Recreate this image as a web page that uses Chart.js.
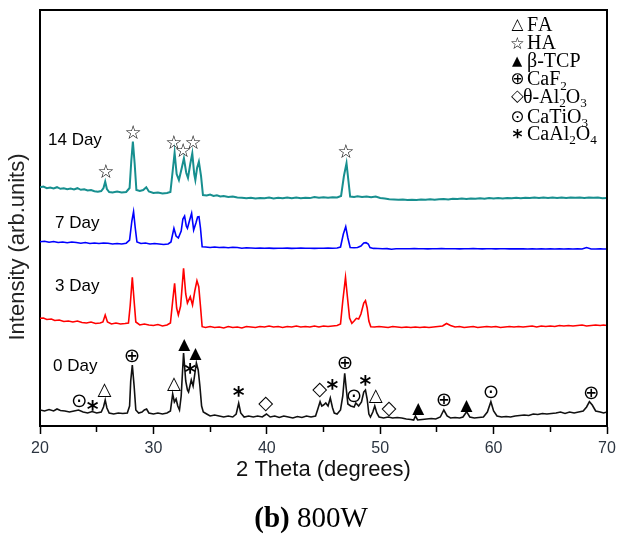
<!DOCTYPE html>
<html>
<head>
<meta charset="utf-8">
<style>html,body{margin:0;padding:0;background:#fff}</style>
<script src="https://cdn.jsdelivr.net/npm/chart.js@4/dist/chart.umd.min.js"></script>
</head>
<body>
<canvas id="c" width="618" height="539"></canvas>
<script>
// 2 theta (deg), stacked intensity (arb.units)
const day0=[[20.0,16],[20.4,15],[20.8,16.5],[21.2,15],[21.5,17],[21.8,15.5],[22.2,15],[22.6,14],[23.0,15],[23.4,16],[23.8,14],[24.2,13],[24.6,14.5],[25.0,13],[25.4,14],[25.6,19],[25.75,26],[25.9,18],[26.1,13],[26.5,12],[26.9,13],[27.3,12.5],[27.7,13],[27.9,20],[28.0,45],[28.14,61],[28.3,40],[28.45,16],[28.7,13],[29.0,14],[29.2,16],[29.4,17],[29.6,13],[30.0,12],[30.4,13],[30.8,12],[31.2,13],[31.5,15],[31.7,32],[31.85,24],[32.0,27],[32.15,20],[32.3,16],[32.45,30],[32.66,73],[32.85,45],[33.0,36],[33.1,34],[33.34,46],[33.5,40],[33.65,52],[33.79,63],[33.95,56],[34.1,40],[34.25,20],[34.4,14],[34.7,12],[35.0,10],[35.4,11],[35.8,10],[36.2,9],[36.6,10],[37.0,9],[37.3,12],[37.52,22.7],[37.7,13],[38.0,9],[38.4,10],[38.8,9],[39.2,10],[39.6,9],[39.97,12],[40.3,9],[40.7,10],[41.1,8.5],[41.5,10],[41.9,9],[42.3,8],[42.7,9.5],[43.1,8.5],[43.5,10],[43.9,9],[44.3,10],[44.5,17],[44.7,24.3],[44.85,20],[45.0,21],[45.2,23],[45.4,20],[45.6,28],[45.8,18],[45.95,13],[46.2,12],[46.5,16],[46.7,30],[46.87,52.7],[47.0,38],[47.15,22],[47.4,20],[47.7,19],[47.85,23],[48.1,20],[48.35,24],[48.55,34],[48.7,36],[48.85,27],[49.0,12],[49.14,9],[49.35,14],[49.52,20],[49.7,13],[49.9,9],[50.3,8],[50.7,9],[51.1,8],[51.5,8.5],[51.9,8],[52.3,7],[52.7,6.5],[52.95,6],[53.11,10],[53.3,6],[53.7,6.5],[54.1,7],[54.5,7.5],[54.9,7],[55.3,9],[55.61,16],[55.9,10],[56.2,8],[56.6,8.5],[57.0,8],[57.3,9],[57.62,14.3],[57.9,9],[58.3,8],[58.7,8.5],[59.1,9],[59.45,14],[59.76,24.3],[60.0,15],[60.3,10],[60.7,9],[61.1,9.5],[61.5,9],[61.9,10],[62.3,10.5],[62.7,11],[63.1,10.5],[63.5,12],[63.9,11.5],[64.3,12.5],[64.7,12],[65.1,12.5],[65.5,13],[65.9,14],[66.3,12.5],[66.7,14],[67.1,13],[67.5,14],[67.9,15],[68.2,19],[68.45,24.3],[68.7,21],[69.0,15],[69.4,14],[69.7,13],[70.0,14]];

const day3=[[20.0,107.7],[20.3,108],[20.6,106.5],[21.0,107],[21.3,105.5],[21.7,106],[22.1,104.5],[22.5,105],[22.9,104],[23.3,105],[23.7,103.5],[24.1,103],[24.5,104],[24.9,102.5],[25.3,103],[25.55,104],[25.75,111],[25.95,104],[26.3,102],[26.7,103],[27.1,102],[27.5,102.5],[27.8,103],[27.95,120],[28.14,148.7],[28.3,125],[28.45,104],[28.8,101],[29.2,102],[29.6,101],[30.0,100.5],[30.4,101.5],[30.8,100],[31.2,101],[31.5,103],[31.7,125],[31.87,142.7],[32.05,118],[32.2,111],[32.4,120],[32.66,157.7],[32.85,132],[33.0,123],[33.25,129.3],[33.45,121],[33.65,135],[33.84,145.3],[34.0,139.3],[34.15,120],[34.3,99.3],[34.6,98.5],[35.0,99.5],[35.4,98.5],[35.8,99],[36.2,98],[36.6,99.5],[37.0,98.5],[37.4,99],[37.8,98],[38.2,99.5],[38.6,99],[39.0,98.5],[39.4,99.5],[39.8,99],[40.2,100],[40.6,99],[41.0,99.5],[41.4,98.5],[41.8,99.5],[42.2,99],[42.6,100],[43.0,99],[43.4,99.5],[43.8,99],[44.2,100],[44.6,99],[45.0,100],[45.4,99.5],[45.8,100],[46.2,100.5],[46.5,102],[46.7,125],[46.94,148.7],[47.1,130],[47.3,108],[47.5,102.7],[47.7,105],[47.9,107.7],[48.1,107],[48.3,112],[48.55,123],[48.7,125.3],[48.85,118],[49.0,105],[49.17,99.3],[49.5,99],[49.9,99.5],[50.3,99],[50.7,98.5],[51.1,99.5],[51.5,99],[51.9,98.5],[52.3,99],[52.7,98.5],[53.1,99],[53.5,98.5],[53.9,99],[54.3,98.5],[54.7,99],[55.1,99.5],[55.5,100],[55.85,102.5],[56.2,100.5],[56.6,99],[57.0,99.5],[57.4,98.5],[57.8,99],[58.2,99.5],[58.6,98.5],[59.0,99],[59.4,99.5],[59.8,99],[60.2,99.5],[60.6,98.5],[61.0,99],[61.4,99.5],[61.8,99],[62.2,99.5],[62.6,99],[63.0,99.5],[63.4,100],[63.8,99],[64.2,100],[64.6,99.5],[65.0,100],[65.4,99.5],[65.8,100.5],[66.2,100],[66.6,100.5],[67.0,100],[67.4,100.5],[67.8,101],[68.2,100],[68.6,100.5],[69.0,101],[69.4,100.5],[69.7,101],[70.0,100.5]];

const day7=[[20.0,184.3],[20.4,184.8],[20.8,183.8],[21.2,184.5],[21.6,183.5],[22.0,184],[22.4,183.2],[22.8,184],[23.2,183.5],[23.6,182.8],[24.0,183.5],[24.4,182.5],[24.8,183],[25.2,182.5],[25.6,183],[26.0,182.7],[26.4,182],[26.8,182.5],[27.2,182],[27.6,182.8],[27.9,186],[28.1,205],[28.25,214.3],[28.4,198],[28.55,184],[28.9,182.5],[29.3,183],[29.7,182],[30.1,182.5],[30.5,182],[30.9,181.5],[31.3,182],[31.55,184],[31.81,197.7],[32.0,190],[32.2,188],[32.45,195],[32.6,207],[32.75,210],[32.9,200],[33.0,197.7],[33.2,206],[33.37,212.7],[33.55,196],[33.75,203],[33.9,209],[34.02,209.3],[34.15,198],[34.3,179.3],[34.6,179],[35.0,178.5],[35.4,179],[35.8,178.5],[36.2,178.7],[36.6,178.2],[37.0,178.7],[37.4,178.5],[37.8,177.8],[38.2,178.2],[38.6,178],[39.0,177.8],[39.4,178],[39.8,177.7],[40.2,177.9],[40.6,177.6],[41.0,177.8],[41.4,177.7],[41.8,177.9],[42.2,177.6],[42.6,177.8],[43.0,178],[43.4,177.7],[43.8,177.8],[44.2,177.6],[44.6,177.8],[45.0,177.7],[45.4,177.9],[45.8,177.8],[46.2,178],[46.5,179],[46.75,192],[46.96,199.3],[47.15,188],[47.35,178.5],[47.7,178.3],[48.0,178.5],[48.3,180],[48.55,183],[48.75,183.3],[48.95,182],[49.1,178.5],[49.4,177.6],[49.8,177.5],[50.2,177.3],[50.6,177.4],[51.0,176.8],[51.4,177.3],[51.8,177.2],[52.2,177.3],[52.6,177.2],[53.0,177.4],[53.4,177.2],[53.8,177.3],[54.2,177.1],[54.6,177.3],[55.0,177.2],[55.4,177.4],[55.8,177.2],[56.2,177.3],[56.6,177.2],[57.0,177.1],[57.4,177.3],[57.8,177.2],[58.2,177.4],[58.6,177.2],[59.0,177.1],[59.4,177.3],[59.8,177.2],[60.2,177.1],[60.6,177.2],[61.0,177.3],[61.4,177.1],[61.8,177.2],[62.2,177.1],[62.6,177.2],[63.0,177],[63.4,177.1],[63.8,177],[64.2,177.1],[64.6,177],[65.0,177.1],[65.4,177],[65.8,177.1],[66.2,177],[66.6,177.1],[67.0,177],[67.4,177.1],[67.8,177],[68.2,178.5],[68.6,177],[69.0,177],[69.4,177.1],[69.7,177],[70.0,177]];

const day14=[[20.0,238.7],[20.3,239.5],[20.6,237.8],[20.9,238.5],[21.2,237.5],[21.5,238.8],[21.8,237.2],[22.1,237.8],[22.4,236.8],[22.7,237.5],[23.0,236.5],[23.3,237.8],[23.6,236.2],[23.9,236.8],[24.2,235.5],[24.5,236],[24.8,234.8],[25.1,234.3],[25.4,235],[25.6,238],[25.75,244.3],[25.9,237],[26.1,234],[26.4,233.5],[26.8,234.5],[27.2,233.5],[27.6,234],[27.9,238],[28.05,265],[28.19,284.3],[28.35,262],[28.5,236],[28.8,235],[29.1,236],[29.37,238.7],[29.6,234.5],[30.0,233],[30.4,233.5],[30.8,232.5],[31.2,233],[31.5,234],[31.7,255],[31.87,273.3],[32.05,252],[32.25,246],[32.5,258],[32.69,267.7],[32.9,253],[33.05,248],[33.25,262],[33.43,272.7],[33.6,252],[33.7,246],[33.85,258],[34.01,264.3],[34.2,250],[34.37,231],[34.7,230.5],[35.0,231.5],[35.3,230],[35.6,230.8],[35.9,229.5],[36.2,230],[36.6,229],[37.0,229.5],[37.4,228.5],[37.8,228.2],[38.2,227.7],[38.6,228.3],[39.0,227.5],[39.4,228],[39.8,227.7],[40.2,228.4],[40.6,227.6],[41.0,228.2],[41.4,227.8],[41.8,228.5],[42.2,227.7],[42.6,228.4],[43.0,227.8],[43.4,228.3],[43.8,227.9],[44.2,229],[44.6,228.2],[45.0,228.8],[45.4,228.3],[45.8,228.7],[46.2,228.5],[46.55,230],[46.8,250],[47.03,262.7],[47.2,245],[47.35,229.5],[47.7,229],[48.0,229.7],[48.4,229],[48.8,229.5],[49.2,228.8],[49.6,229.5],[50.0,228],[50.4,227.5],[50.8,226.8],[51.2,226.5],[51.6,226.2],[52.0,226.5],[52.4,226],[52.8,226.3],[53.2,226],[53.6,226.5],[54.0,226.2],[54.4,226.8],[54.8,226.3],[55.2,226.7],[55.6,227],[56.0,226.6],[56.4,227.3],[56.8,226.9],[57.2,227.5],[57.6,227],[58.0,227.6],[58.4,227.2],[58.8,227.8],[59.2,227.3],[59.6,227.9],[60.0,227.5],[60.4,228],[60.8,227.6],[61.2,228.1],[61.6,227.7],[62.0,228.2],[62.4,227.8],[62.8,228.3],[63.2,227.9],[63.6,228.4],[64.0,228],[64.4,228.5],[64.8,228.1],[65.2,228.4],[65.6,228],[66.0,228.5],[66.4,228.1],[66.8,228.6],[67.2,228.2],[67.6,228.5],[68.0,228.1],[68.4,228.6],[68.8,228.2],[69.2,228.4],[69.6,227.8],[70.0,228]];

// phase marks: [2 theta, height, phase]
const marks14=[[25.8,254.3,'star'],[28.2,293.7,'star'],[31.8,283.7,'star'],[32.6,276,'star'],[33.49,283.7,'star'],[46.96,274.3,'star']];
const marks0=[[23.43,25,'odot'],[24.66,21,'ast'],[25.69,35.3,'tri'],[28.1,70,'oplus'],[31.81,42,'tri'],[32.73,82,'ftri'],[33.72,72.7,'ftri'],[33.25,57.7,'ast'],[37.52,34.3,'ast'],[39.9,21.7,'dia'],[44.67,36,'dia'],[45.79,41.7,'ast'],[46.87,63.3,'oplus'],[47.67,30,'odot'],[48.7,46,'ast'],[49.61,29.3,'tri'],[50.78,16.7,'dia'],[53.35,17.7,'ftri'],[55.61,26,'oplus'],[57.62,21,'ftri'],[59.74,34.3,'odot'],[68.6,32.7,'oplus']];

const seriesNames=['0 Day','3 Day','7 Day','14 Day'];
const seriesColors=['#111111','#ff0000','#0000ff','#178f8f'];
const legendKeys=['tri','star','ftri','oplus','dia','odot','ast'];
const legendNames=['FA','HA','β-TCP','CaF2','θ-Al2O3','CaTiO3','CaAl2O4'];

const glyphs={
tri:{ch:'△',w:14,wt:''},
star:{ch:'☆',w:15,wt:''},
ftri:{ch:'▲',w:12,wt:''},
oplus:{ch:'⊕',w:13,wt:''},
dia:{ch:'◇',w:15,wt:''},
odot:{ch:'⊙',w:13,wt:''},
ast:{ch:'*',w:11,wt:'bold '}
};

function drawGlyph(ctx,key,cx,cy,scale){
const g=glyphs[key];
ctx.font=g.wt+'100px "DejaVu Sans"';
let m=ctx.measureText(g.ch);
const size=100*g.w*scale/(m.actualBoundingBoxLeft+m.actualBoundingBoxRight);
ctx.font=g.wt+size.toFixed(2)+'px "DejaVu Sans"';
m=ctx.measureText(g.ch);
ctx.textAlign='left';ctx.textBaseline='alphabetic';
ctx.fillText(g.ch,cx-(m.actualBoundingBoxRight-m.actualBoundingBoxLeft)/2,cy+(m.actualBoundingBoxAscent-m.actualBoundingBoxDescent)/2);
}

function chemText(ctx,txt,x,y,size){
// digits become subscripts
for(const ch of txt){
const sub=/[0-9]/.test(ch);
ctx.font=(sub?size*0.66:size)+'px "Liberation Serif"';
ctx.fillText(ch,x,sub?y+size*0.22:y);
x+=ctx.measureText(ch).width;
}
}

const deco={
id:'deco',
afterDraw(chart){
const {ctx,chartArea:a,scales:{x,y}}=chart;
ctx.save();
ctx.strokeStyle='#000';ctx.lineWidth=2;
ctx.beginPath();ctx.moveTo(a.left,a.top);ctx.lineTo(a.right,a.top);ctx.lineTo(a.right,a.bottom);ctx.stroke();
ctx.fillStyle='#000';
marks14.concat(marks0).forEach(p=>drawGlyph(ctx,p[2],x.getPixelForValue(p[0]),y.getPixelForValue(p[1]),1));
// legend
const rows=[25,42.7,61,79.3,96.7,116.7,134];
legendKeys.forEach((k,i)=>{
drawGlyph(ctx,k,517.5,rows[i],0.85);
ctx.textAlign='left';ctx.textBaseline='alphabetic';
chemText(ctx,legendNames[i],k==='dia'?523:527,rows[i]+6,20);
});
// sample labels
ctx.font='17px "Liberation Sans"';
ctx.textAlign='left';ctx.textBaseline='alphabetic';
ctx.fillText('14 Day',48,144.5);
ctx.fillText('7 Day',55,228);
ctx.fillText('3 Day',55,291);
ctx.fillText('0 Day',53,371);
// y title
ctx.save();
ctx.translate(18,247);ctx.rotate(-Math.PI/2);
ctx.font='22px "Liberation Sans"';ctx.fillStyle='#222';
ctx.textAlign='center';ctx.textBaseline='middle';
ctx.fillText('Intensity (arb.units)',0,0);
ctx.restore();
// caption
ctx.textAlign='left';ctx.textBaseline='alphabetic';
ctx.font='bold 29px "Liberation Serif"';
const w1=ctx.measureText('(b)').width;
ctx.font='29px "Liberation Serif"';
const w2=ctx.measureText(' 800W').width;
const sx=311-(w1+w2)/2;
ctx.font='bold 29px "Liberation Serif"';ctx.fillText('(b)',sx,527);
ctx.font='29px "Liberation Serif"';ctx.fillText(' 800W',sx+w1,527);
ctx.restore();
}
};

const all=[day0,day3,day7,day14];
new Chart(document.getElementById('c'),{
type:'line',
data:{datasets:all.map((d,i)=>({
label:seriesNames[i],
data:d.map(p=>({x:p[0],y:p[1]})),
borderColor:seriesColors[i],
borderWidth:i===3?2:1.6,
pointRadius:0,
tension:0,
fill:false
}))},
options:{
responsive:false,
animation:false,
events:[],
layout:{padding:{top:10,right:11,bottom:0,left:0}},
plugins:{legend:{display:false},tooltip:{enabled:false}},
scales:{
x:{type:'linear',min:20,max:70,
afterFit(s){s.height=113;s.paddingRight=0;s.paddingLeft=0;},
border:{display:true,color:'#000',width:2},
grid:{drawOnChartArea:false,drawTicks:true,tickLength:8,tickColor:'#000',tickWidth:1.5,
tickBorderDash:c=>(c.tick&&c.tick.value%10!==0)?[5,20]:[]},
ticks:{stepSize:5,autoSkip:false,maxRotation:0,padding:5,color:'#2b3440',
font:{family:'"Liberation Sans"',size:16},
callback:v=>v%10===0?v:''},
title:{display:true,text:'2 Theta (degrees)',color:'#111',
font:{family:'"Liberation Sans"',size:22},padding:{top:0,bottom:56}}
},
y:{type:'linear',min:0,max:416,
afterFit(s){s.width=40;},
border:{display:true,color:'#000',width:2},
grid:{display:false},
ticks:{display:false}
}
}
},
plugins:[deco]
});
</script>
</body>
</html>
